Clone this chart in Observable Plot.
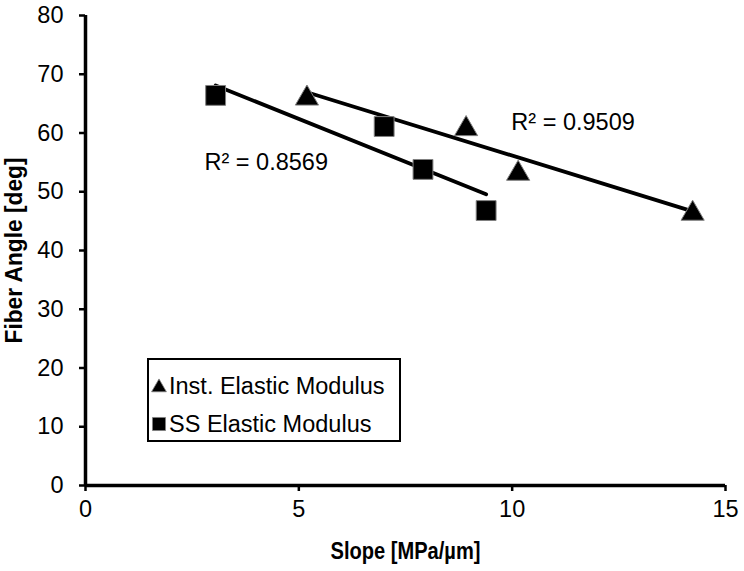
<!DOCTYPE html>
<html>
<head>
<meta charset="utf-8">
<script src="https://cdn.jsdelivr.net/npm/d3@7"></script>
<script src="https://cdn.jsdelivr.net/npm/@observablehq/plot@0.6"></script>
<style>
  body { margin: 0; background: #fff; }
  #wrap { position: relative; width: 744px; height: 571px; font-family: "Liberation Sans", Arial, sans-serif; }
  #wrap svg g[aria-label="x-axis label"] text,
  #wrap svg g[aria-label="y-axis label"] text { font-weight: bold; font-size: 23px; }
  #legend { position: absolute; left: 147px; top: 358px; width: 254px; height: 84px; border: 2px solid #000; background: #fff; box-sizing: border-box; font-size: 23.5px; color: #000; }
  #legend .row { position: absolute; left: 2px; display: flex; align-items: center; white-space: nowrap; line-height: 28px; }
  #legend svg { margin-right: 2px; }
</style>
</head>
<body>
<div id="wrap"></div>
<script>
// Series: Inst. Elastic Modulus (triangles)
const instSlope = [5.19, 8.92, 10.14, 14.23];
const instAngle = [66.4, 61.2, 53.6, 46.8];
// Series: SS Elastic Modulus (squares)
const ssSlope = [3.05, 7.0, 7.91, 9.39];
const ssAngle = [66.4, 61.1, 53.8, 46.8];
const seriesNames = ["Inst. Elastic Modulus", "SS Elastic Modulus"];
const xTicks = [0, 5, 10, 15];
const yTicks = [0, 10, 20, 30, 40, 50, 60, 70, 80];
const r2Text = ["R² = 0.9509", "R² = 0.8569"];
const r2X = [9.98, 2.79];
const r2Y = [61.8, 55.0];

const inst = instSlope.map((x, i) => ({x, y: instAngle[i]}));
const ss = ssSlope.map((x, i) => ({x, y: ssAngle[i]}));
const r2 = r2Text.map((t, i) => ({t, x: r2X[i], y: r2Y[i]}));

const chart = Plot.plot({
  width: 744,
  height: 571,
  marginLeft: 85,
  marginRight: 19,
  marginTop: 15,
  marginBottom: 86,
  style: {fontFamily: "'Liberation Sans', Arial, sans-serif", fontSize: "23.5px", color: "#000", background: "#fff"},
  x: {domain: [0, 15]},
  y: {domain: [0, 80]},
  marks: [
    Plot.axisX({ticks: xTicks, tickSize: 6, tickPadding: 9, strokeWidth: 2.5, fontSize: 23.5,
      label: "Slope [MPa/µm]", labelAnchor: "center", labelOffset: 73, labelArrow: "none"}),
    Plot.axisY({ticks: yTicks, tickSize: 6, tickPadding: 16, strokeWidth: 2.5, fontSize: 23.5,
      label: "Fiber Angle [deg]", labelAnchor: "center", labelOffset: 80, labelArrow: "none"}),
    Plot.ruleX([0], {stroke: "#000", strokeWidth: 3.5}),
    Plot.ruleY([0], {stroke: "#000", strokeWidth: 3.5}),
    Plot.linearRegressionY(inst, {x: "x", y: "y", stroke: "#000", strokeWidth: 3.8, ci: 0}),
    Plot.linearRegressionY(ss, {x: "x", y: "y", stroke: "#000", strokeWidth: 3.8, ci: 0}),
    Plot.dot(inst, {x: "x", y: "y", symbol: "triangle", r: 8.6, dy: 3, fill: "#000", stroke: "#808080", strokeWidth: 1}),
    Plot.dot(ss, {x: "x", y: "y", symbol: "square", r: 11.2, fill: "#000", stroke: "#808080", strokeWidth: 1}),
    Plot.text(r2, {x: "x", y: "y", text: "t", textAnchor: "start", fontSize: 23.5, fill: "#000"})
  ]
});
document.getElementById("wrap").appendChild(chart);

// Narrow bold axis titles (like Arial Narrow Bold)
const xl = chart.querySelector('g[aria-label="x-axis label"] text');
if (xl) { xl.setAttribute("textLength", 150); xl.setAttribute("lengthAdjust", "spacingAndGlyphs"); }
const yl = chart.querySelector('g[aria-label="y-axis label"] text');
if (yl) { yl.setAttribute("textLength", 186); yl.setAttribute("lengthAdjust", "spacingAndGlyphs"); }

// Legend (overlaid inside the plot area)
const legend = document.createElement("div");
legend.id = "legend";
const tri = '<svg width="16" height="16" viewBox="-8 -8 16 16"><path d="' + d3.symbol(d3.symbolTriangle, 95)() + '" transform="translate(0,1.5)" fill="#000" stroke="#808080" stroke-width="0.8"/></svg>';
const sq = '<svg width="16" height="16" viewBox="-8 -8 16 16"><path d="' + d3.symbol(d3.symbolSquare, 170)() + '" fill="#000" stroke="#808080" stroke-width="0.8"/></svg>';
const symbols = [tri, sq];
const tops = [12, 50];
seriesNames.forEach((name, i) => {
  const row = document.createElement("div");
  row.className = "row";
  row.style.top = tops[i] + "px";
  row.innerHTML = symbols[i] + "<span></span>";
  row.querySelector("span").textContent = name;
  legend.appendChild(row);
});
document.getElementById("wrap").appendChild(legend);
</script>
</body>
</html>
